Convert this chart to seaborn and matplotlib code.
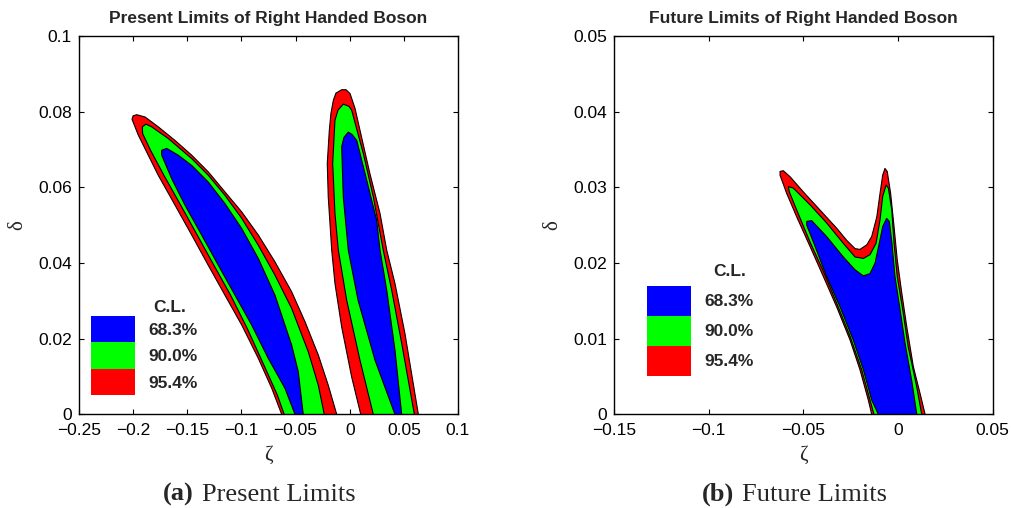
import seaborn as sns
import matplotlib.pyplot as plt
from matplotlib.patches import Patch
from matplotlib.ticker import FuncFormatter, MultipleLocator

# confidence levels, drawn from the outermost contour inwards
levels = ['68.3%', '90.0%', '95.4%']
level_colors = ['#0000ff', '#00ff00', '#ff0000']

# ---- present limits, left band (zeta, delta) outlines
pl_red_x = [-0.0628, -0.0720, -0.0844, -0.0997, -0.1152, -0.1306, -0.1459, -0.1613, -0.1768,
            -0.1860, -0.1952, -0.2010, -0.2000, -0.1967, -0.1890, -0.1768, -0.1613, -0.1459,
            -0.1306, -0.1152, -0.0997, -0.0844, -0.0690, -0.0536, -0.0413, -0.0290, -0.0198,
            -0.0120]
pl_red_y = [0.0, 0.0069, 0.0148, 0.0236, 0.0315, 0.0394, 0.0474, 0.0553, 0.0632,
            0.0685, 0.0738, 0.0780, 0.0789, 0.0792, 0.0786, 0.0760, 0.0724, 0.0685,
            0.0641, 0.0588, 0.0535, 0.0474, 0.0403, 0.0324, 0.0245, 0.0157, 0.0077,
            0.0]
pl_green_x = [-0.0605, -0.0668, -0.0792, -0.0946, -0.1100, -0.1254, -0.1408, -0.1561, -0.1716,
              -0.1839, -0.1912, -0.1915, -0.1881, -0.1829, -0.1675, -0.1459, -0.1306, -0.1152,
              -0.0997, -0.0844, -0.0690, -0.0536, -0.0382, -0.0290, -0.0235]
pl_green_y = [0.0, 0.0051, 0.0130, 0.0227, 0.0315, 0.0394, 0.0474, 0.0553, 0.0632,
              0.0698, 0.0742, 0.0760, 0.0767, 0.0760, 0.0729, 0.0676, 0.0632, 0.0579,
              0.0518, 0.0447, 0.0368, 0.0280, 0.0165, 0.0077, 0.0]
pl_blue_x = [-0.0505, -0.0598, -0.0752, -0.0905, -0.1059, -0.1213, -0.1367, -0.1521, -0.1644,
             -0.1736, -0.1736, -0.1690, -0.1583, -0.1459, -0.1306, -0.1152, -0.0997, -0.0844,
             -0.0690, -0.0536, -0.0475, -0.0429]
pl_blue_y = [0.0, 0.0069, 0.0148, 0.0236, 0.0315, 0.0394, 0.0474, 0.0553, 0.0623,
             0.0685, 0.0698, 0.0703, 0.0685, 0.0658, 0.0614, 0.0557, 0.0491, 0.0412,
             0.0315, 0.0183, 0.0113, 0.0]

# ---- present limits, right band
pr_red_x = [0.0102, 0.0018, -0.0074, -0.0136, -0.0166, -0.0198, -0.0207, -0.0188, -0.0173,
            -0.0151, -0.0127, -0.0074, -0.0034, 0.0003, 0.0049, 0.0095, 0.0187, 0.0280,
            0.0342, 0.0418, 0.0510, 0.0634]
pr_red_y = [0.0, 0.0099, 0.0231, 0.0346, 0.0434, 0.0575, 0.0663, 0.0751, 0.0796,
            0.0830, 0.0849, 0.0858, 0.0858, 0.0848, 0.0809, 0.0751, 0.0636, 0.0531,
            0.0434, 0.0346, 0.0214, 0.0]
pr_green_x = [0.0218, 0.0095, -0.0028, -0.0105, -0.0136, -0.0157, -0.0136, -0.0108, -0.0059,
              -0.0006, 0.0018, 0.0126, 0.0218, 0.0310, 0.0388, 0.0480, 0.0597]
pr_green_y = [0.0, 0.0143, 0.0302, 0.0434, 0.0531, 0.0663, 0.0777, 0.0804, 0.0820,
              0.0814, 0.0804, 0.0689, 0.0575, 0.0434, 0.0328, 0.0188, 0.0]
pr_blue_x = [0.0418, 0.0234, 0.0077, -0.0013, -0.0059, -0.0074, -0.0053, -0.0013, 0.0021,
             0.0065, 0.0157, 0.0249, 0.0280, 0.0342, 0.0418, 0.0480]
pr_blue_y = [0.0, 0.0143, 0.0302, 0.0434, 0.0575, 0.0707, 0.0732, 0.0746, 0.0740,
             0.0724, 0.0619, 0.0513, 0.0434, 0.0328, 0.0170, 0.0]

# ---- future limits
fu_red_x = [-0.0139, -0.0157, -0.0201, -0.0253, -0.0324, -0.0394, -0.0465, -0.0535, -0.0588,
            -0.0623, -0.0623, -0.0606, -0.0570, -0.0500, -0.0412, -0.0324, -0.0271, -0.0227,
            -0.0201, -0.0165, -0.0139, -0.0112, -0.0095, -0.0081, -0.0069, -0.0057, -0.0039,
            -0.0021, -0.0004, 0.0020, 0.0046, 0.0081, 0.0116, 0.0143]
fu_red_y = [0.0, 0.0019, 0.0059, 0.0098, 0.0142, 0.0182, 0.0222, 0.0261, 0.0292,
            0.0316, 0.0321, 0.0322, 0.0314, 0.0294, 0.0270, 0.0246, 0.0230, 0.0219,
            0.0218, 0.0224, 0.0235, 0.0261, 0.0292, 0.0316, 0.0325, 0.0321, 0.0292,
            0.0248, 0.0204, 0.0160, 0.0116, 0.0063, 0.0028, 0.0]
fu_green_x = [-0.0127, -0.0148, -0.0192, -0.0253, -0.0324, -0.0394, -0.0465, -0.0535, -0.0574,
              -0.0579, -0.0553, -0.0465, -0.0377, -0.0289, -0.0227, -0.0183, -0.0148, -0.0116,
              -0.0095, -0.0081, -0.0063, -0.0051, -0.0033, -0.0021, -0.0004, 0.0025, 0.0054,
              0.0099, 0.0125]
fu_green_y = [0.0, 0.0019, 0.0059, 0.0103, 0.0147, 0.0189, 0.0228, 0.0270, 0.0294,
              0.0301, 0.0299, 0.0277, 0.0253, 0.0226, 0.0208, 0.0206, 0.0211, 0.0226,
              0.0257, 0.0288, 0.0303, 0.0299, 0.0270, 0.0226, 0.0182, 0.0138, 0.0089,
              0.0036, 0.0]
fu_blue_x = [-0.0104, -0.0139, -0.0183, -0.0236, -0.0306, -0.0377, -0.0438, -0.0482, -0.0482,
             -0.0456, -0.0377, -0.0289, -0.0227, -0.0183, -0.0148, -0.0121, -0.0099, -0.0081,
             -0.0060, -0.0046, -0.0032, -0.0016, 0.0011, 0.0037, 0.0072, 0.0099]
fu_blue_y = [0.0, 0.0019, 0.0059, 0.0098, 0.0142, 0.0182, 0.0222, 0.0250, 0.0255,
             0.0256, 0.0235, 0.0208, 0.0191, 0.0183, 0.0186, 0.0200, 0.0226, 0.0248,
             0.0259, 0.0255, 0.0226, 0.0182, 0.0138, 0.0094, 0.0045, 0.0]

# style
sns.set_style("ticks")
plt.rcParams['font.family'] = ['Liberation Sans', 'DejaVu Sans']
plt.rcParams['axes.linewidth'] = 1.0

fig = plt.figure(figsize=(10.11, 5.08), dpi=100)
ax1 = fig.add_axes([0.0781, 0.1844, 0.3749, 0.7447])
ax2 = fig.add_axes([0.6073, 0.1844, 0.3746, 0.7447])


def draw_region(ax, xs, ys, color):
    ax.fill(xs, ys, facecolor=color, edgecolor='none', zorder=2)
    sns.lineplot(x=xs, y=ys, sort=False, estimator=None, color='black', lw=0.8,
                 solid_joinstyle='round', ax=ax, zorder=3)


# outer (95.4%) first, then 90%, then 68.3% on top
draw_region(ax1, pl_red_x, pl_red_y, level_colors[2])
draw_region(ax1, pl_green_x, pl_green_y, level_colors[1])
draw_region(ax1, pl_blue_x, pl_blue_y, level_colors[0])
draw_region(ax1, pr_red_x, pr_red_y, level_colors[2])
draw_region(ax1, pr_green_x, pr_green_y, level_colors[1])
draw_region(ax1, pr_blue_x, pr_blue_y, level_colors[0])

draw_region(ax2, fu_red_x, fu_red_y, level_colors[2])
draw_region(ax2, fu_green_x, fu_green_y, level_colors[1])
draw_region(ax2, fu_blue_x, fu_blue_y, level_colors[0])

fmt = FuncFormatter(lambda v, p: ('%g' % round(v, 4)).replace('-', '\u2212'))

setup = [
    (ax1, (-0.25, 0.1), 0.05, (0, 0.1), 0.02, 'Present Limits of Right Handed Boson',
     (0.0317, 0.2598), 1.966, (0.240, 0.282)),
    (ax2, (-0.15, 0.05), 0.05, (0, 0.05), 0.01, 'Future Limits of Right Handed Boson',
     (0.0871, 0.3390), 2.275, (0.306, 0.377)),
]
for ax, xlim, xstep, ylim, ystep, title, leg_pos, hh, cl_pos in setup:
    ax.set_xlim(*xlim)
    ax.set_ylim(*ylim)
    ax.xaxis.set_major_locator(MultipleLocator(xstep))
    ax.yaxis.set_major_locator(MultipleLocator(ystep))
    ax.xaxis.set_major_formatter(fmt)
    ax.yaxis.set_major_formatter(fmt)
    ax.tick_params(direction='in', top=True, right=True, length=3.6, width=0.8,
                   labelsize=12.5, colors='black')
    ax.tick_params(axis='x', pad=6)
    ax.tick_params(axis='y', pad=5)
    for s in ax.spines.values():
        s.set_visible(True)
        s.set_color('black')
    ax.set_title(title, fontsize=12.5, fontweight='bold', pad=9.6)
    ax.set_xlabel('\u03b6', fontsize=15, family=['Liberation Serif', 'DejaVu Serif'], va='center')
    ax.set_ylabel('\u03b4', fontsize=15, family=['Liberation Serif', 'DejaVu Serif'], va='center')
    ax.xaxis.set_label_coords(0.5, -0.1076)
    ax.yaxis.set_label_coords(-0.162, 0.5)

    handles = [Patch(facecolor=c, edgecolor='none') for c in level_colors]
    ax.legend(handles, levels, loc='upper left', bbox_to_anchor=leg_pos, frameon=False,
              borderpad=0, borderaxespad=0, labelspacing=0, handlelength=2.53,
              handleheight=hh, handletextpad=0.8, prop={'weight': 'bold', 'size': 12.5})
    ax.text(cl_pos[0], cl_pos[1], 'C.L.', transform=ax.transAxes, ha='center', va='center',
            fontsize=12.5, fontweight='bold')

serif = ['Liberation Serif', 'DejaVu Serif']
fig.text(0.1612, 0.0138, '(a)', fontsize=19, fontweight='bold', family=serif, va='baseline')
fig.text(0.1995, 0.0138, 'Present Limits', fontsize=19, family=serif, va='baseline')
fig.text(0.6941, 0.0138, '(b)', fontsize=19, fontweight='bold', family=serif, va='baseline')
fig.text(0.7336, 0.0138, 'Future Limits', fontsize=19, family=serif, va='baseline')

fig.savefig('out.png', dpi=100)
plt.close(fig)
